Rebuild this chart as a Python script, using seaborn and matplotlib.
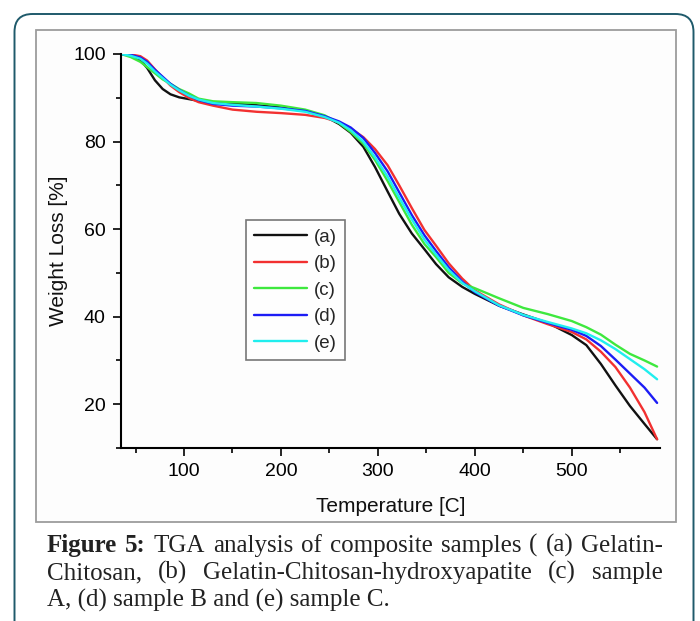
import numpy as np
import pandas as pd
import matplotlib.pyplot as plt
import seaborn as sns
from matplotlib.patches import FancyBboxPatch, Rectangle
from matplotlib.ticker import MultipleLocator

# temperature grid (C)
temperature = [35, 45, 55, 62, 70, 78, 86, 95, 105, 115, 130, 150, 175, 200, 225, 245,
               260, 272, 285, 297, 310, 322, 335, 348, 360, 373, 387, 400, 425, 450,
               475, 500, 515, 530, 545, 560, 575, 588]

# weight loss [%] per sample
sample_a = [100, 99.7, 98.6, 96.8, 94.0, 92.0, 90.8, 90.1, 89.7, 89.3, 89.0, 88.7, 88.3,
            87.8, 87.0, 85.8, 84.0, 82.0, 78.8, 74.2, 68.6, 63.5, 59.0, 55.4, 52.0, 49.0,
            46.8, 45.2, 42.5, 40.5, 38.6, 35.8, 33.5, 29.2, 24.3, 19.6, 15.5, 12.0]
sample_b = [100, 99.9, 99.5, 98.5, 96.5, 94.6, 92.8, 91.3, 90.0, 89.0, 88.2, 87.3, 86.8,
            86.5, 86.1, 85.4, 84.4, 83.0, 81.0, 78.3, 74.6, 70.0, 64.8, 59.8, 56.2, 52.2,
            48.7, 46.0, 42.8, 40.3, 38.3, 36.5, 34.8, 32.0, 28.5, 23.8, 18.2, 12.0]
sample_c = [100, 99.3, 98.2, 97.0, 95.6, 94.2, 93.2, 92.0, 91.0, 89.8, 89.2, 89.0, 88.8,
            88.2, 87.3, 86.0, 84.2, 82.2, 79.5, 75.8, 71.0, 66.2, 61.0, 56.6, 53.6, 50.0,
            47.6, 46.5, 44.2, 42.0, 40.6, 39.0, 37.6, 35.9, 33.6, 31.5, 30.0, 28.6]
sample_d = [100, 99.8, 99.2, 98.2, 96.4, 94.8, 93.2, 91.8, 90.5, 89.5, 88.6, 88.2, 88.0,
            87.6, 87.0, 85.8, 84.6, 83.2, 80.8, 77.4, 73.2, 68.4, 63.2, 58.6, 55.0, 51.3,
            48.0, 45.6, 42.5, 40.3, 38.6, 37.0, 35.6, 33.3, 30.2, 27.0, 23.8, 20.3]
sample_e = [100, 99.6, 98.9, 97.8, 96.0, 94.5, 93.0, 91.7, 90.5, 89.6, 88.8, 88.4, 88.0,
            87.5, 86.8, 85.6, 84.3, 82.6, 80.0, 76.4, 72.0, 67.2, 62.2, 57.6, 54.2, 50.7,
            47.7, 45.8, 42.6, 40.4, 38.8, 37.3, 36.2, 34.6, 32.6, 30.3, 28.0, 25.7]

labels = ["(a)", "(b)", "(c)", "(d)", "(e)"]
colours = ["#111111", "#f23030", "#3ee83e", "#1c1cf5", "#20eeee"]

df = pd.DataFrame({"T": temperature, "(a)": sample_a, "(b)": sample_b,
                   "(c)": sample_c, "(d)": sample_d, "(e)": sample_e})
df = df.melt(id_vars="T", var_name="sample", value_name="loss")

sns.set_theme(style="ticks")
plt.rcParams['font.family'] = ['Liberation Sans', 'DejaVu Sans']

W, H = 700, 621
fig = plt.figure(figsize=(W / 100, H / 100), dpi=100)
fig.patch.set_facecolor("white")

# outer rounded card (open at the bottom) and the inner picture frame, in inches
fig.patches.append(FancyBboxPatch((0.145, -0.4), 6.79, 6.47,
                                  boxstyle="round,pad=0,rounding_size=0.18",
                                  transform=fig.dpi_scale_trans, facecolor="white",
                                  edgecolor="#1f5a6b", linewidth=1.4, zorder=-10))
fig.patches.append(Rectangle((0.355, (H - 522) / 100), 6.40, 4.92,
                             transform=fig.dpi_scale_trans, facecolor="#fdfdfd",
                             edgecolor="#9c9c9c", linewidth=1.3, zorder=-9))

ax = fig.add_axes([121 / W, 1 - 448 / H, 539 / W, 394 / H])
ax.set_facecolor("none")
ax.set_zorder(5)

sns.lineplot(data=df, x="T", y="loss", hue="sample", hue_order=labels,
             palette=colours, linewidth=1.7, ax=ax, legend=True)

ax.set_xlim(35, 591)
ax.set_ylim(10, 100)
ax.set_xticks([100, 200, 300, 400, 500])
ax.set_yticks([20, 40, 60, 80, 100])
ax.xaxis.set_minor_locator(MultipleLocator(50))
ax.yaxis.set_minor_locator(MultipleLocator(10))
ax.tick_params(which="major", length=6, width=1.2, labelsize=14, colors="black", pad=5)
ax.tick_params(which="minor", length=3.5, width=1.2, colors="black")
for s in ["top", "right"]:
    ax.spines[s].set_visible(False)
for s in ["left", "bottom"]:
    ax.spines[s].set_linewidth(1.5)
    ax.spines[s].set_color("black")

ax.set_xlabel("Temperature [C]", fontsize=15, labelpad=12, color="#111111")
ax.set_ylabel("Weight Loss [%]", fontsize=15, labelpad=4, color="#111111")

handles, _ = ax.get_legend_handles_labels()
leg = ax.legend(handles, labels, loc="upper left", bbox_to_anchor=(0.232, 0.578),
                fontsize=13.5, frameon=True, fancybox=False, edgecolor="#555555",
                handlelength=2.8, handletextpad=0.35, labelspacing=0.5,
                borderpad=0.45, borderaxespad=0)
leg.get_frame().set_linewidth(1.2)

# caption: justified lines under the chart
caption_lines = [
    [("Figure", "bold"), ("5:", "bold"), ("TGA", "normal"), ("analysis", "normal"),
     ("of", "normal"), ("composite", "normal"), ("samples", "normal"), ("(", "normal"),
     ("(a)", "normal"), ("Gelatin-", "normal")],
    [("Chitosan,", "normal"), ("(b)", "normal"), ("Gelatin-Chitosan-hydroxyapatite", "normal"),
     ("(c)", "normal"), ("sample", "normal")],
]
last_line = "A, (d) sample B and (e) sample C."
baselines = [552, 579, 607]
left_px, right_px = 47, 663
cap_font = ["Liberation Serif", "DejaVu Serif"]
cap_size = 18

renderer = fig.canvas.get_renderer()
for words, base in zip(caption_lines, baselines):
    texts = [fig.text(0, 1 - base / H, w, fontsize=cap_size, fontweight=wt,
                      family=cap_font, va="baseline", color="#222222")
             for w, wt in words]
    widths = [t.get_window_extent(renderer).width for t in texts]
    gap = (right_px - left_px - sum(widths)) / (len(words) - 1)
    x = left_px
    for t, wd in zip(texts, widths):
        t.set_x(x / W)
        x += wd + gap
fig.text(left_px / W, 1 - baselines[2] / H, last_line, fontsize=cap_size,
         family=cap_font, va="baseline", color="#222222")

fig.savefig("out.png", dpi=100)
